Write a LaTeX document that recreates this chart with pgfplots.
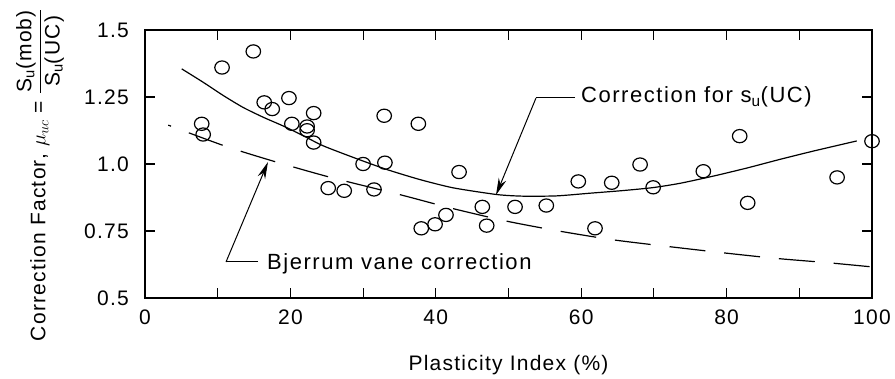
\documentclass[border=0pt]{standalone}
\usepackage{fontspec}
\setmainfont{Liberation Sans}[LetterSpace=6]
\newfontfamily\annfont{Liberation Sans}[LetterSpace=7]
\usepackage{pgfplots}
\pgfplotsset{compat=1.18}
\usetikzlibrary{arrows.meta}
\begin{document}
\fontsize{21bp}{25bp}\selectfont
\begin{tikzpicture}
\begin{axis}[
  name=ax,
  at={(0,0)}, anchor=south west,
  scale only axis, width=727bp, height=268bp,
  xmin=0, xmax=100, ymin=0.5, ymax=1.5,
  xtick={0,10,...,100}, xticklabels={0,,20,,40,,60,,80,,100},
  ytick={0.5,0.75,1,1.25,1.5}, yticklabels={0.5,0.75,1.0,1.25,1.5},
  tick align=inside, major tick length=10bp,
  tick style={black, line width=1.1bp},
  axis line style={line width=1.1bp},
  xticklabel style={yshift=-5bp},
  yticklabel style={xshift=-9bp},
  /pgf/number format/assume math mode=true,
  ticklabel style={font=\fontsize{21bp}{25bp}\selectfont},
  xlabel={Plasticity Index (\%)},
  xlabel style={at={(axis description cs:0.5,0)}, anchor=base, yshift=-72bp, inner sep=0pt, font=\fontsize{21bp}{25bp}\selectfont},
  clip=false,
]
% data points
\addplot[only marks, mark=o, mark size=6.6bp, mark options={line width=1.2bp, black, xscale=1.1}] coordinates {
(7.8,1.15) (8,1.11) (10.6,1.36) (14.9,1.42) (16.4,1.23) (17.5,1.205) (19.8,1.246) (20.2,1.15)
(22.3,1.14) (22.3,1.126) (23.2,1.19) (23.2,1.08) (25.2,0.91) (27.4,0.90) (30,1.0) (31.5,0.905)
(32.9,1.18) (33,1.005) (37.6,1.15) (38,0.76) (39.9,0.775) (41.4,0.81) (43.2,0.97) (46.4,0.84)
(47,0.77) (50.9,0.84) (55.2,0.845) (59.6,0.935) (61.9,0.76) (64.2,0.93) (68.1,0.998) (69.9,0.913)
(76.8,0.973) (81.8,1.104) (82.9,0.855) (95.2,0.95) (100,1.085)
};
% correction for su(UC)
\addplot[black, line width=1.2bp, smooth, tension=0.4] coordinates {
(5.05,1.355) (8,1.305) (10.8,1.255) (13.5,1.211) (16.3,1.174) (19,1.142) (21.8,1.105) (24.5,1.068)
(28.7,1.024) (33.2,0.98) (37.8,0.942) (42.4,0.911) (48.4,0.886) (52,0.880) (56.6,0.881) (61.2,0.891)
(65.8,0.901) (69.9,0.912) (73.6,0.928) (78.2,0.955) (82.8,0.985) (87.3,1.017) (91.9,1.048) (97.9,1.086)
};
% Bjerrum vane correction
\addplot[black, line width=1.2bp, smooth, tension=0.4, dash pattern=on 36bp off 19bp, dash phase=33bp] coordinates {
(3.2,1.145) (11.2,1.065) (18.1,1.007) (25.4,0.951) (35.3,0.884) (42,0.836) (49.7,0.787) (56.9,0.750)
(64.4,0.717) (72,0.692) (79.4,0.669) (86.7,0.648) (94.2,0.631) (100,0.616)
};
\end{axis}
% annotations
\draw[line width=1bp] (430bp,200bp) -- (391bp,200bp);
\draw[line width=1bp, -{Stealth[length=17bp,width=8bp]}] (391bp,200bp) -- (351bp,103bp);
\node[anchor=base west, inner sep=0pt, font=\annfont\fontsize{22bp}{26bp}\selectfont] at (436bp,195bp) {Correction for s\textsubscript{u}(UC)};
\draw[line width=1bp] (113bp,36bp) -- (81bp,36bp);
\draw[line width=1bp, -{Stealth[length=17bp,width=8bp]}] (81bp,36bp) -- (123bp,136bp);
\node[anchor=base west, inner sep=0pt, font=\annfont\fontsize{22bp}{26bp}\selectfont] at (122bp,29bp) {Bjerrum vane correction};
% y label
\node[rotate=90] at (-105bp,123bp) {Correction Factor, $\mu_{uc}$ = ${\displaystyle\frac{\mbox{S\textsubscript{u}(mob)}}{\mbox{S\textsubscript{u}(UC)}}}$};
\pgfresetboundingbox
\path[use as bounding box] (-145bp,-81bp) rectangle (750bp,298bp);
\end{tikzpicture}
\end{document}
